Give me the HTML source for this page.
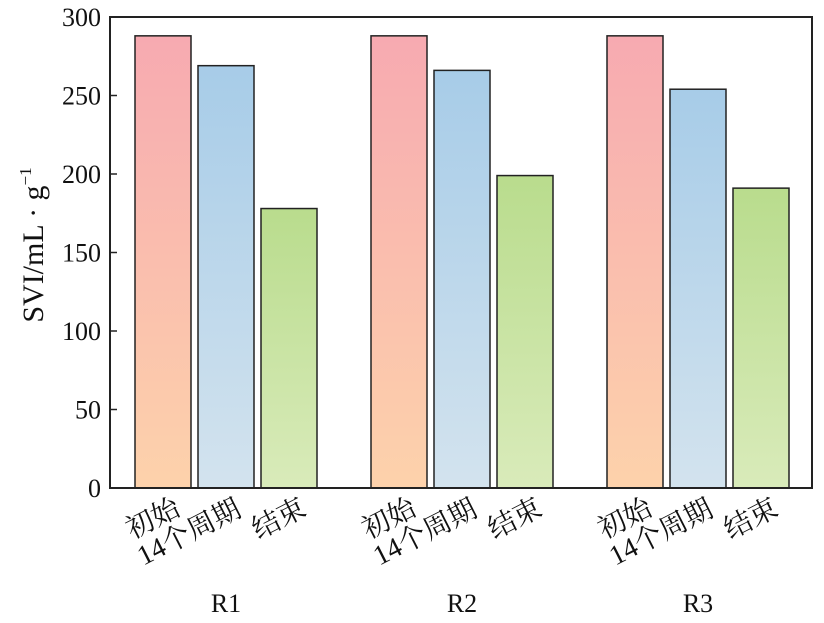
<!DOCTYPE html>
<html><head><meta charset="utf-8"><style>
body{margin:0;background:#fff}
svg text{font-family:"Liberation Serif","Noto Serif CJK SC",serif;fill:#111}
</style></head><body>
<svg width="824" height="618" xmlns="http://www.w3.org/2000/svg">
<defs>
<linearGradient id="gp" x1="0" y1="0" x2="0" y2="1"><stop offset="0" stop-color="#f7aab1"/><stop offset="1" stop-color="#fdd2ab"/></linearGradient>
<linearGradient id="gb" x1="0" y1="0" x2="0" y2="1"><stop offset="0" stop-color="#a7cce8"/><stop offset="1" stop-color="#d3e3ee"/></linearGradient>
<linearGradient id="gg" x1="0" y1="0" x2="0" y2="1"><stop offset="0" stop-color="#b9dc8d"/><stop offset="1" stop-color="#d9ebba"/></linearGradient>
</defs>
<g id="plot"></g>
</svg>
<script>
const groups=["R1","R2","R3"];
const seriesNames=["初始","14个周期","结束"];
const initialVals=[288,288,288];
const cycle14Vals=[269,266,254];
const endVals=[178,199,191];
const yTicks=[0,50,100,150,200,250,300];
const NS="http://www.w3.org/2000/svg";
const L=110,R=812,T=17,B=488,yMax=300;
const y=v=>B-(v/yMax)*(B-T);
const gx=i=>135+i*236;
const bw=56,step=63;
const labOff=[[19,514],[17,515],[19,514]];
const g=document.getElementById('plot');
function mk(t,a,txt){const e=document.createElementNS(NS,t);for(const k in a)e.setAttribute(k,a[k]);if(txt!==undefined)e.textContent=txt;g.appendChild(e);return e;}
const series=[initialVals,cycle14Vals,endVals];
const fills=["url(#gp)","url(#gb)","url(#gg)"];
groups.forEach((gn,i)=>{
  series.forEach((vals,s)=>{
    const x=gx(i)+s*step;
    const r=mk('rect',{x:x,y:y(vals[i]),width:bw,height:B-y(vals[i]),fill:fills[s],stroke:'#222','stroke-width':1.5});
    
    
    const cx=x+bw/2+labOff[s][0], cy=labOff[s][1];
    const t=mk('text',{x:cx,y:cy,'text-anchor':'end','font-size':28,transform:`rotate(-27 ${cx} ${cy})`},seriesNames[s]);
    
    
  });
  const gl=mk('text',{x:gx(i)+step+bw/2,y:612,'text-anchor':'middle','font-size':26},gn);
  
  
});
yTicks.forEach(v=>{
  const tk=mk('line',{x1:L,x2:L+7,y1:y(v),y2:y(v),stroke:'#222','stroke-width':1.5});
  
  
  const tl=mk('text',{x:L-9,y:y(v)+9,'text-anchor':'end','font-size':26},v);
  
  
});
const fr=mk('rect',{x:L,y:T,width:R-L,height:B-T,fill:'none',stroke:'#222','stroke-width':2});


const yt=mk('text',{x:0,y:0,'text-anchor':'middle','font-size':30,transform:'translate(43 245) rotate(-90)'});


yt.innerHTML='SVI/mL · g<tspan dy="-12" font-size="17">−1</tspan>';
</script>
</body></html>
